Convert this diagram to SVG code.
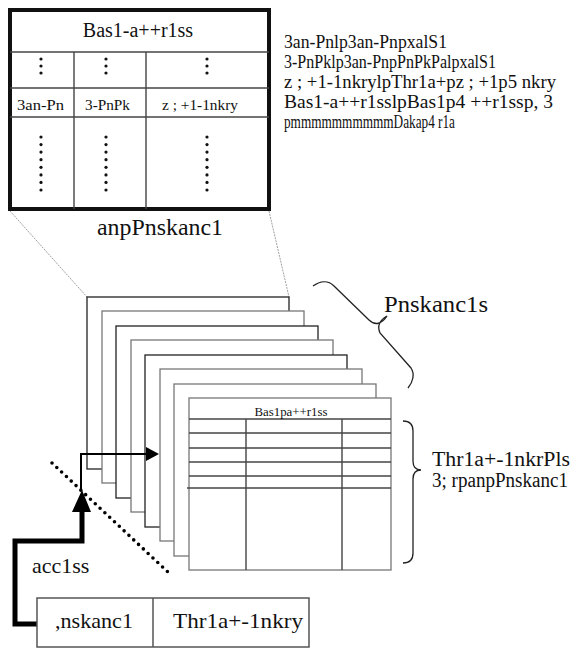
<svg xmlns="http://www.w3.org/2000/svg" width="574" height="649" viewBox="0 0 574 649">
<style>
text{font-family:'Liberation Serif','Times New Roman',serif;fill:#111}
.grid{stroke:#444;stroke-width:1.4;fill:none}
.pg{fill:#fff;stroke-width:1.3}
.pa{stroke:#222}
.pb{stroke:#777}
.guide{stroke:#888;stroke-width:0.8;stroke-dasharray:2 1;fill:none}
.brace{fill:none;stroke:#222;stroke-width:1.3}
.dot{fill:#111}
</style>
<rect width="574" height="649" fill="#fff"/>

<g id="detail-table">
<rect x="10" y="10" width="259" height="199" fill="#fff" stroke="#111" stroke-width="4"/>
<line class="grid" x1="10" y1="52" x2="269" y2="52"/>
<line class="grid" x1="10" y1="88" x2="269" y2="88"/>
<line class="grid" x1="10" y1="117" x2="269" y2="117"/>
<line class="grid" x1="74" y1="52" x2="74" y2="209"/>
<line class="grid" x1="146" y1="52" x2="146" y2="209"/>
<text x="138" y="37" font-size="20" text-anchor="middle">Bas1-a++r1ss</text>
<g class="dot">
<circle cx="41" cy="59" r="1.6"/><circle cx="41" cy="66" r="1.6"/><circle cx="41" cy="73" r="1.6"/>
<circle cx="106" cy="59" r="1.6"/><circle cx="106" cy="66" r="1.6"/><circle cx="106" cy="73" r="1.6"/>
<circle cx="207" cy="59" r="1.6"/><circle cx="207" cy="66" r="1.6"/><circle cx="207" cy="73" r="1.6"/>
</g>
<text x="17" y="110" font-size="15" textLength="47" lengthAdjust="spacingAndGlyphs">3an-Pn</text>
<text x="85" y="110" font-size="15" textLength="45" lengthAdjust="spacingAndGlyphs">3-PnPk</text>
<text x="162" y="110" font-size="15" textLength="76" lengthAdjust="spacingAndGlyphs">z ; +1-1nkry</text>
<g class="dot">
<circle cx="41" cy="137" r="1.6"/><circle cx="41" cy="144.6" r="1.6"/><circle cx="41" cy="152.1" r="1.6"/><circle cx="41" cy="159.7" r="1.6"/><circle cx="41" cy="167.3" r="1.6"/><circle cx="41" cy="174.9" r="1.6"/><circle cx="41" cy="182.4" r="1.6"/><circle cx="41" cy="190" r="1.6"/>
<circle cx="106" cy="137" r="1.6"/><circle cx="106" cy="144.6" r="1.6"/><circle cx="106" cy="152.1" r="1.6"/><circle cx="106" cy="159.7" r="1.6"/><circle cx="106" cy="167.3" r="1.6"/><circle cx="106" cy="174.9" r="1.6"/><circle cx="106" cy="182.4" r="1.6"/><circle cx="106" cy="190" r="1.6"/>
<circle cx="207" cy="137" r="1.6"/><circle cx="207" cy="144.6" r="1.6"/><circle cx="207" cy="152.1" r="1.6"/><circle cx="207" cy="159.7" r="1.6"/><circle cx="207" cy="167.3" r="1.6"/><circle cx="207" cy="174.9" r="1.6"/><circle cx="207" cy="182.4" r="1.6"/><circle cx="207" cy="190" r="1.6"/>
</g>
</g>

<g id="detail-label">
<text x="97" y="235" font-size="24" textLength="126" lengthAdjust="spacingAndGlyphs">anpPnskanc1</text>
</g>

<g id="legend">
<text x="284" y="48" font-size="19" textLength="163" lengthAdjust="spacingAndGlyphs">3an-Pnlp3an-PnpxalS1</text>
<text x="284" y="68" font-size="19" textLength="212" lengthAdjust="spacingAndGlyphs">3-PnPklp3an-PnpPnPkPalpxalS1</text>
<text x="284" y="88" font-size="19" textLength="272" lengthAdjust="spacingAndGlyphs">z ; +1-1nkrylpThr1a+pz ; +1p5 nkry</text>
<text x="284" y="108" font-size="19" textLength="269" lengthAdjust="spacingAndGlyphs">Bas1-a++r1sslpBas1p4 ++r1ssp, 3</text>
<text x="284" y="128" font-size="19" textLength="171" lengthAdjust="spacingAndGlyphs">pmmmmmmmmmmDakap4 r1a</text>
</g>

<g id="connectors">
<line class="guide" x1="10" y1="211" x2="87" y2="297"/>
<line class="guide" x1="269" y1="211" x2="289" y2="297"/>
</g>

<g id="page-stack">
<rect class="pg pa" x="87" y="297" width="202" height="172"/>
<rect class="pg pb" x="102" y="311" width="202" height="172"/>
<rect class="pg pa" x="116" y="326" width="202" height="172"/>
<rect class="pg pb" x="131" y="340" width="202" height="172"/>
<rect class="pg pa" x="145" y="355" width="202" height="172"/>
<rect class="pg pb" x="160" y="369" width="202" height="172"/>
<rect class="pg pb" x="174" y="384" width="202" height="172"/>
</g>

<g id="front-page">
<rect class="pg pb" x="189" y="398" width="202" height="172"/>
<line class="grid" x1="189" y1="419" x2="391" y2="419"/>
<line class="grid" x1="189" y1="433" x2="391" y2="433" stroke="#111"/>
<line class="grid" x1="189" y1="448" x2="391" y2="448"/>
<line class="grid" x1="189" y1="462" x2="391" y2="462" stroke="#111"/>
<line class="grid" x1="189" y1="476" x2="391" y2="476" stroke="#111"/>
<line class="grid" x1="187" y1="488" x2="391" y2="488" stroke="#111"/>
<line class="grid" x1="246" y1="419" x2="246" y2="570" stroke="#111"/>
<line class="grid" x1="342" y1="419" x2="342" y2="570"/>
<text x="291" y="416" font-size="13" text-anchor="middle" textLength="73" lengthAdjust="spacingAndGlyphs">Bas1pa++r1ss</text>
</g>

<g id="pages-brace">
<path class="brace" d="M313,286 C320,281 328,280 334,286 L369,320 C375,326 382,324 387,316 C380,320 377,326 380,333 L411,368 C415,374 413,382 408,388"/>
<text x="384" y="312" font-size="24" textLength="104" lengthAdjust="spacingAndGlyphs">Pnskanc1s</text>
</g>

<g id="entries-brace">
<path class="brace" d="M403,421 C410,421 413,424 413,431 L413,461 C413,467 416,470 421,470 C416,470 413,473 413,479 L413,553 C413,560 410,563 403,563"/>
<text x="432" y="466" font-size="20" textLength="138" lengthAdjust="spacingAndGlyphs">Thr1a+-1nkrPls</text>
<text x="432" y="487" font-size="20" textLength="136" lengthAdjust="spacingAndGlyphs">3; rpanpPnskanc1</text>
</g>

<g id="access-arrows">
<polyline points="81,490 81,454 147,454" fill="none" stroke="#000" stroke-width="2"/>
<polygon points="146,447 159,454 146,461" fill="#000"/>
<polyline points="37,624 15,624 15,541 82,541 82,510" fill="none" stroke="#000" stroke-width="5"/>
<polygon points="72,512 91,512 82,490" fill="#000"/>
<text x="32" y="573" font-size="22">acc1ss</text>
</g>

<g id="boundary">
<line x1="52" y1="463" x2="170" y2="574" stroke="#000" stroke-width="3.6" stroke-linecap="round" stroke-dasharray="0 6.6"/>
</g>

<g id="index-box">
<rect x="37" y="598" width="272" height="49" fill="#fff" stroke="#555" stroke-width="1.5"/>
<line x1="153" y1="598" x2="153" y2="647" stroke="#555" stroke-width="1.5"/>
<text x="55" y="628" font-size="22" textLength="78" lengthAdjust="spacingAndGlyphs">,nskanc1</text>
<text x="173" y="628" font-size="22" textLength="130" lengthAdjust="spacingAndGlyphs">Thr1a+-1nkry</text>
</g>
</svg>
